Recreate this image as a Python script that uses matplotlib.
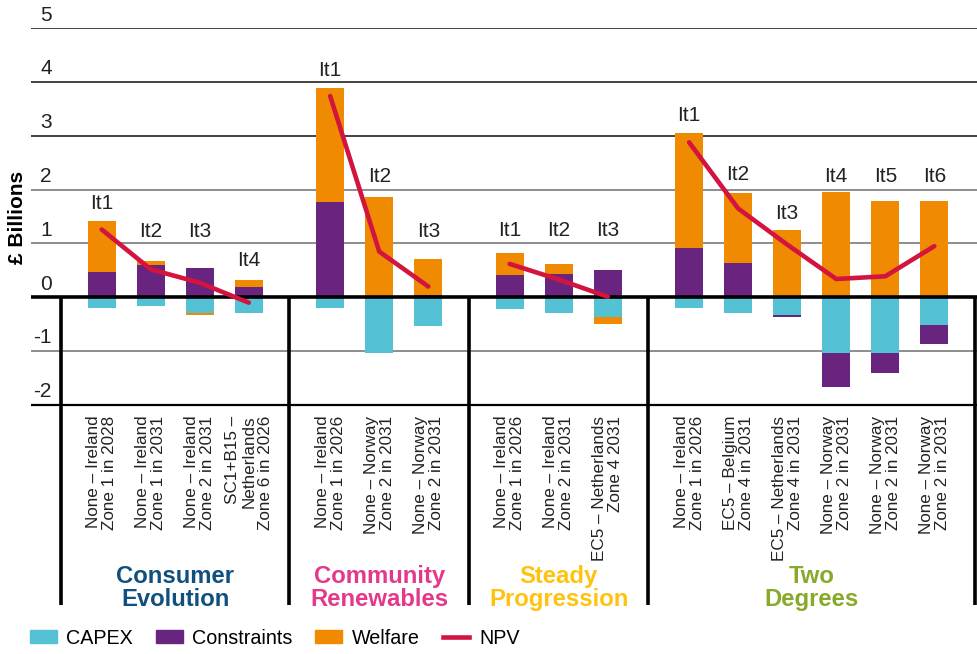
import matplotlib
matplotlib.use('Agg')
import matplotlib.pyplot as plt
from matplotlib.patches import Patch
from matplotlib.lines import Line2D

plt.rcParams['font.family'] = ['Liberation Sans', 'DejaVu Sans']

# scenarios and their options
groups = ['Consumer\nEvolution', 'Community\nRenewables', 'Steady\nProgression', 'Two\nDegrees']
group_colors = ['#10507f', '#e4388b', '#fec20f', '#87aa2b']
group_sizes = [4, 3, 3, 6]

options = [
    'None – Ireland\nZone 1 in 2028',
    'None – Ireland\nZone 1 in 2031',
    'None – Ireland\nZone 2 in 2031',
    'SC1+B15 –\nNetherlands\nZone 6 in 2026',
    'None – Ireland\nZone 1 in 2026',
    'None – Norway\nZone 2 in 2031',
    'None – Norway\nZone 2 in 2031',
    'None – Ireland\nZone 1 in 2026',
    'None – Ireland\nZone 2 in 2031',
    'EC5 – Netherlands\nZone 4 2031',
    'None – Ireland\nZone 1 in 2026',
    'EC5 – Belgium\nZone 4 in 2031',
    'EC5 – Netherlands\nZone 4 in 2031',
    'None – Norway\nZone 2 in 2031',
    'None – Norway\nZone 2 in 2031',
    'None – Norway\nZone 2 in 2031',
]
iterations = ['It1', 'It2', 'It3', 'It4',
              'It1', 'It2', 'It3',
              'It1', 'It2', 'It3',
              'It1', 'It2', 'It3', 'It4', 'It5', 'It6']

# £ billions
capex = [-0.20, -0.16, -0.29, -0.29,
         -0.20, -1.04, -0.54,
         -0.21, -0.29, -0.36,
         -0.20, -0.29, -0.33, -1.04, -1.04, -0.52]
constraints = [0.47, 0.60, 0.54, 0.20,
               1.78, 0.00, 0.05,
               0.42, 0.43, 0.50,
               0.92, 0.64, -0.04, -0.62, -0.37, -0.35]
welfare = [0.95, 0.07, -0.04, 0.12,
           2.11, 1.87, 0.66,
           0.40, 0.19, -0.14,
           2.13, 1.29, 1.25, 1.96, 1.79, 1.79]
npv = [1.26, 0.52, 0.27, -0.10,
       3.74, 0.85, 0.20,
       0.62, 0.33, 0.01,
       2.88, 1.65, 0.98, 0.34, 0.39, 0.95]


def Layout(pad=0.83):
    '''
    bar positions and group dividers
    '''
    xs, dividers, spans = [], [0.0], []
    cur = 0.0
    for n in group_sizes:
        start = cur + pad
        pos = [start + i for i in range(n)]
        xs += pos
        cur = pos[-1] + pad
        dividers.append(cur)
        spans.append((dividers[-2], cur))
    return xs, dividers, spans


def Draw():
    xs, dividers, spans = Layout()
    ymin, ymax = -5.72, 5.0
    px = (dividers[-1] - dividers[0]) / 914.0

    fig = plt.figure(figsize=(9.78, 6.54), dpi=100)
    ax = fig.add_axes([31 / 978, 49 / 654, 947 / 978, 1 - 49 / 654 - 28.3 / 654])
    ax.set_xlim(dividers[0] - 30 * px, dividers[-1] + 3 * px)
    ax.set_ylim(ymin, ymax)
    ax.axis('off')

    # grid lines and y labels
    for v in range(-2, 6):
        if v == 0:
            ax.axhline(0, color='black', lw=2.6, zorder=5)
        elif v == -2:
            ax.axhline(v, color='black', lw=1.6, zorder=1)
        else:
            col = '#222222' if v >= 3 else '#7a7a7a'
            ax.axhline(v, color=col, lw=1.2, zorder=1)
        ax.text(21 / 947, v + 0.07, str(v), transform=ax.get_yaxis_transform(),
                ha='right', va='bottom', fontsize=15, color='#222222')

    ax.vlines(dividers, ymin, 0, color='black', lw=2.6, zorder=5)

    # stacked bars, positive and negative parts stacked apart
    w = 0.57
    pos_base = [0.0] * len(xs)
    neg_base = [0.0] * len(xs)
    for vals, col in [(capex, '#55c1d5'), (constraints, '#68247e'), (welfare, '#f08a00')]:
        bottoms = []
        for i, v in enumerate(vals):
            if v >= 0:
                bottoms.append(pos_base[i])
                pos_base[i] += v
            else:
                bottoms.append(neg_base[i])
                neg_base[i] += v
        ax.bar(xs, vals, width=w, bottom=bottoms, color=col, lw=0, zorder=3)

    # NPV line, one piece per scenario
    k = 0
    for n in group_sizes:
        ax.plot(xs[k:k + n], npv[k:k + n], color='#d2143f', lw=3.3,
                solid_capstyle='round', solid_joinstyle='round', zorder=6)
        k += n

    # iteration labels
    it_y = [1.74, 1.23, 1.23, 0.69,
            4.22, 2.24, 1.22,
            1.25, 1.25, 1.25,
            3.38, 2.28, 1.55, 2.24, 2.24, 2.24]
    for x, lab, y in zip(xs, iterations, it_y):
        ax.text(x, y, lab, ha='center', va='center', fontsize=15, color='#222222')

    # option labels
    for x, lab in zip(xs, options):
        ax.text(x, -2.2, lab, rotation=90, ha='center', va='top',
                multialignment='right', fontsize=12.3, linespacing=1.1,
                color='#222222')

    # scenario names
    for (a, b), name, col in zip(spans, groups, group_colors):
        ax.text((a + b) / 2, -5.4, name, ha='center', va='center', fontsize=17.2,
                fontweight='bold', color=col, linespacing=1.0)

    fig.text(18 / 978, 1 - 217 / 654, '£ Billions', rotation=90, ha='center',
             va='center', fontsize=15, fontweight='bold', color='black')

    handles = [Patch(color='#55c1d5'), Patch(color='#68247e'), Patch(color='#f08a00'),
               Line2D([], [], color='#d2143f', lw=3.3)]
    fig.legend(handles, ['CAPEX', 'Constraints', 'Welfare', 'NPV'], ncol=4,
               loc='center left', bbox_to_anchor=(30 / 978, 16 / 654), frameon=False,
               fontsize=14.2, handlelength=1.35, handleheight=0.6, handletextpad=0.5,
               columnspacing=1.15, borderpad=0, borderaxespad=0)

    fig.savefig('out.png', dpi=100)


def main():
    Draw()

if __name__ == '__main__':
    main()
